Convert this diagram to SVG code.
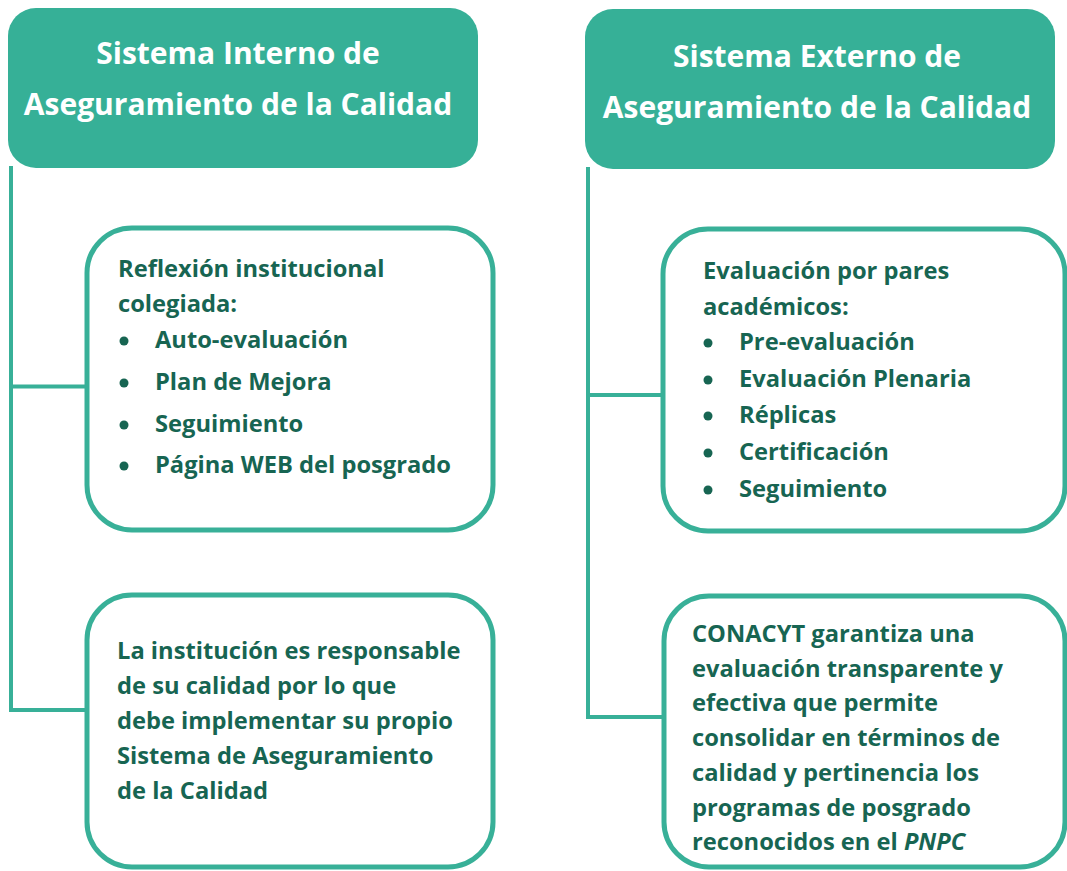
<svg xmlns="http://www.w3.org/2000/svg" width="1067" height="871" viewBox="0 0 1067 871">
<style>
.hdr{fill:#36B097}
.hdrt{font-family:"Open Sans","Noto Sans",sans-serif;font-weight:700;font-size:30px;fill:#FFFFFF;text-anchor:middle}
.box{fill:#FFFFFF;stroke:#38B098;stroke-width:5}
.t{font-family:"Open Sans","Noto Sans",sans-serif;font-weight:700;font-size:23.7px;fill:#176552}
.b{fill:#176552}
.con{fill:none;stroke:#38B098;stroke-width:4}
</style>
<rect width="1067" height="871" fill="#FFFFFF"/>
<g id="connectors">
<path class="con" d="M11,166 V710 H87"/>
<path class="con" d="M11,386.5 H87"/>
<path class="con" d="M588,167 V717 H664"/>
<path class="con" d="M588,395 H663"/>
</g>
<g id="hdr-interno">
<rect class="hdr" x="8" y="8" width="470" height="160" rx="28"/>
<text class="hdrt" x="238" y="64">Sistema Interno de</text>
<text class="hdrt" x="238" y="115">Aseguramiento de la Calidad</text>
</g>
<g id="hdr-externo">
<rect class="hdr" x="585" y="9" width="470" height="160" rx="28"/>
<text class="hdrt" x="817" y="67">Sistema Externo de</text>
<text class="hdrt" x="817" y="118">Aseguramiento de la Calidad</text>
</g>
<g id="box-reflexion">
<rect class="box" x="87" y="228" width="406" height="302" rx="45"/>
<text class="t" x="118" y="277">Reflexión institucional</text>
<text class="t" x="118" y="312">colegiada:</text>
<circle class="b" cx="124" cy="341" r="4.5"/>
<text class="t" x="155" y="348">Auto-evaluación</text>
<circle class="b" cx="124" cy="383" r="4.5"/>
<text class="t" x="155" y="390">Plan de Mejora</text>
<circle class="b" cx="124" cy="425" r="4.5"/>
<text class="t" x="155" y="432">Seguimiento</text>
<circle class="b" cx="124" cy="466" r="4.5"/>
<text class="t" x="155" y="473">Página WEB del posgrado</text>
</g>
<g id="box-institucion">
<rect class="box" x="87" y="595" width="406" height="272" rx="45"/>
<text class="t" x="117" y="659">La institución es responsable</text>
<text class="t" x="117" y="694">de su calidad por lo que</text>
<text class="t" x="117" y="729">debe implementar su propio</text>
<text class="t" x="117" y="764">Sistema de Aseguramiento</text>
<text class="t" x="117" y="799">de la Calidad</text>
</g>
<g id="box-pares">
<rect class="box" x="663" y="229" width="402" height="302" rx="45"/>
<text class="t" x="703" y="279">Evaluación por pares</text>
<text class="t" x="703" y="315">académicos:</text>
<circle class="b" cx="708" cy="343" r="4.5"/>
<text class="t" x="739" y="350">Pre-evaluación</text>
<circle class="b" cx="708" cy="380" r="4.5"/>
<text class="t" x="739" y="387">Evaluación Plenaria</text>
<circle class="b" cx="708" cy="416" r="4.5"/>
<text class="t" x="739" y="423">Réplicas</text>
<circle class="b" cx="708" cy="453" r="4.5"/>
<text class="t" x="739" y="460">Certificación</text>
<circle class="b" cx="708" cy="490" r="4.5"/>
<text class="t" x="739" y="497">Seguimiento</text>
</g>
<g id="box-conacyt">
<rect class="box" x="664" y="596" width="401" height="271" rx="45"/>
<text class="t" x="692" y="642">CONACYT garantiza una</text>
<text class="t" x="692" y="677">evaluación transparente y</text>
<text class="t" x="692" y="711">efectiva que permite</text>
<text class="t" x="692" y="746">consolidar en términos de</text>
<text class="t" x="692" y="781">calidad y pertinencia los</text>
<text class="t" x="692" y="816">programas de posgrado</text>
<text class="t" x="692" y="850">reconocidos en el <tspan font-style="italic">PNPC</tspan></text>
</g>
</svg>
